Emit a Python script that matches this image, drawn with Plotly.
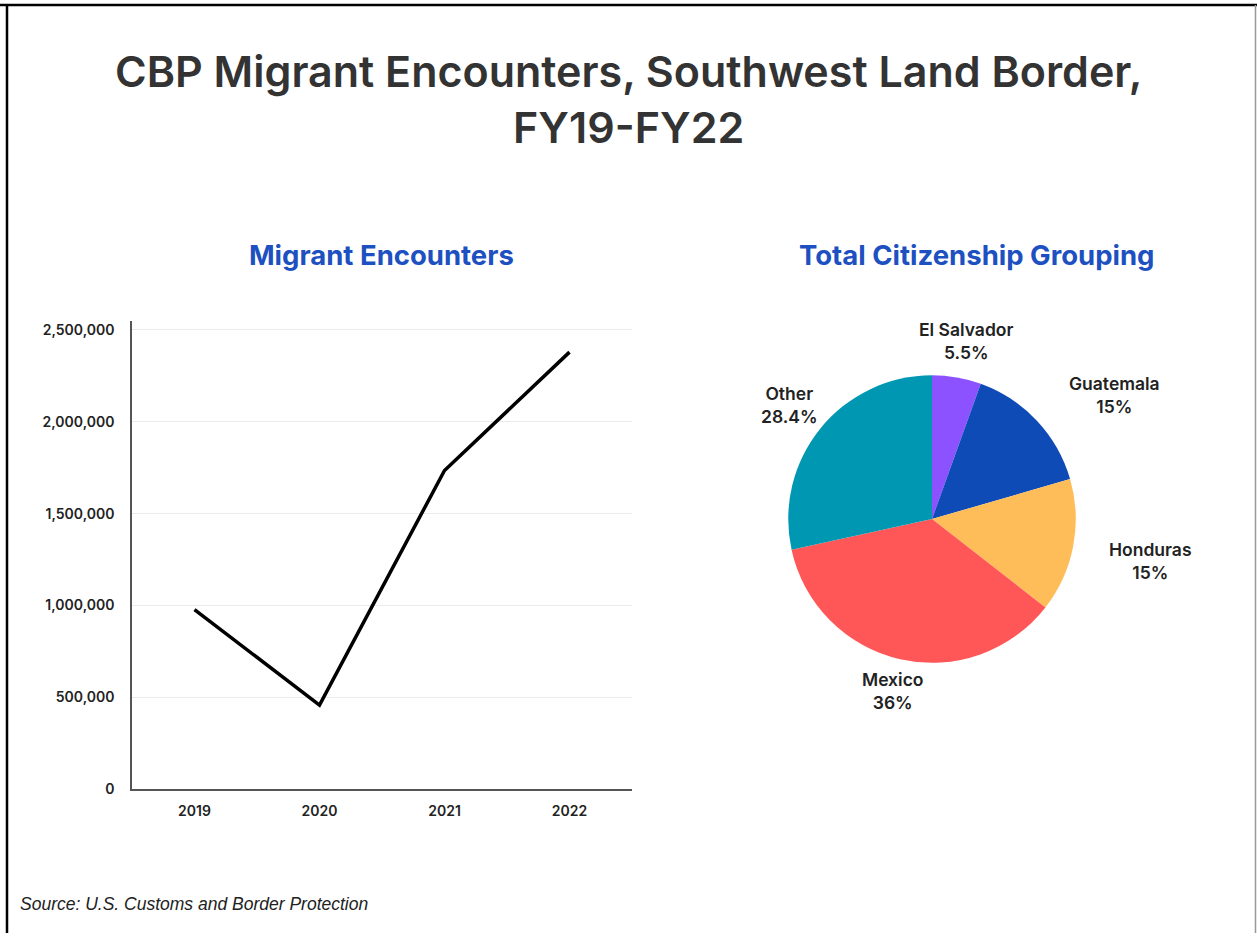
import math
import plotly.graph_objects as go

# ---- data ----
years = ["2019", "2020", "2021", "2022"]
encounters = [977509, 458088, 1734686, 2378944]
y_ticks = [0, 500000, 1000000, 1500000, 2000000, 2500000]

countries = ["El Salvador", "Guatemala", "Honduras", "Mexico", "Other"]
shares = [5.5, 15, 15, 36, 28.4]
share_labels = ["5.5%", "15%", "15%", "36%", "28.4%"]
pie_colors = ["#8c52ff", "#0f4bb7", "#ffbd59", "#ff5757", "#0097b2"]

title_text = "CBP Migrant Encounters, Southwest Land Border,<br>FY19-FY22"

W, H = 1257, 941
FONT = "Inter"

def px(x):
    return x / W

def py(y):
    return 1 - y / H

fig = go.Figure()

fig.add_trace(go.Scatter(
    x=years, y=encounters, mode="lines",
    line=dict(color="#000000", width=3.5),
    showlegend=False, hoverinfo="x+y",
))

# pie geometry (pixels)
PCX, PCY, PR = 932, 523.5, 145
fig.add_trace(go.Pie(
    labels=countries, values=shares,
    textinfo="none",
    marker=dict(colors=pie_colors, line=dict(width=0)),
    sort=False, direction="clockwise", rotation=0,
    domain=dict(x=[px(PCX - PR), px(PCX + PR)], y=[py(PCY + PR), py(PCY - PR)]),
    showlegend=False,
))

fig.update_xaxes(
    type="category", range=[-0.5, 3.5],
    domain=[px(132), px(632)],
    showline=True, linecolor="#555555", linewidth=2,
    showgrid=False, zeroline=False,
    tickfont=dict(family=FONT, size=14, color="#222222", weight=600),
    ticks="", ticklabelstandoff=8,
)
fig.update_yaxes(
    range=[0, 2547000],
    domain=[py(796), py(324)],
    tickvals=y_ticks, tickformat=",",
    showline=True, linecolor="#555555", linewidth=1.5,
    showgrid=True, gridcolor="#ebebeb", gridwidth=1,
    zeroline=False,
    tickfont=dict(family=FONT, size=14, color="#222222", weight=600),
    ticks="", ticklabelstandoff=13,
)

annotations = [
    dict(text=title_text, x=0.5, y=py(100),
         font=dict(family=FONT, size=43, color="#333333", weight=600)),
    dict(text="Migrant Encounters", x=px(381), y=py(257),
         font=dict(family=FONT, size=27.5, color="#1d50c0", weight=700)),
    dict(text="Total Citizenship Grouping", x=px(977), y=py(257),
         font=dict(family=FONT, size=27.5, color="#1d50c0", weight=700)),
    dict(text="<i>Source: U.S. Customs and Border Protection</i>", x=px(18), y=py(912),
         xanchor="left", font=dict(family="Liberation Sans, Arial", size=17.5, color="#222222")),
]

# pie labels placed outside each slice along its mid-angle
LFS = 17.5
total = sum(shares)
cum = 0.0
for name, val, lab in zip(countries, shares, share_labels):
    mid = (cum + val / 2) / total * 2 * math.pi
    cum += val
    s0 = math.sin(mid)
    ang = mid + math.radians(12) * max(0.0, math.sin(2 * mid)) * max(0.0, s0)
    s, c = math.sin(ang), math.cos(ang)
    bw = 0.6 * LFS * max(len(name), len(lab))
    bh = 2 * 1.35 * LFS
    proj = bw / 2 * abs(s) + bh / 2 * abs(c)
    pad = 3 + 30 * max(0.0, s) ** 2
    d = PR + pad + proj
    lx, ly = PCX + d * s, PCY - d * c
    annotations.append(dict(
        text=f"{name}<br>{lab}", x=px(lx), y=py(ly),
        font=dict(family=FONT, size=LFS, color="#222222", weight=600),
    ))

for a in annotations:
    a.update(xref="paper", yref="paper", showarrow=False)
    a.setdefault("xanchor", "center")
    a.setdefault("yanchor", "middle")

shapes = [
    dict(type="line", x0=0, x1=1, y0=py(5), y1=py(5), line=dict(color="#000000", width=2.5)),
    dict(type="line", x0=px(7), x1=px(7), y0=py(4), y1=0, line=dict(color="#000000", width=2.5)),
    dict(type="line", x0=px(1255.5), x1=px(1255.5), y0=py(5), y1=0, line=dict(color="#999999", width=1.5)),
]
for s in shapes:
    s.update(xref="paper", yref="paper", layer="above")

fig.update_layout(
    width=W, height=H, autosize=False,
    margin=dict(l=0, r=0, t=0, b=0),
    paper_bgcolor="#ffffff", plot_bgcolor="#ffffff",
    annotations=annotations,
    shapes=shapes,
    font=dict(family=FONT),
)

fig.write_html(
    "out.html",
    config={"displayModeBar": False},
    post_script="document.body.style.margin='0';document.body.style.overflow='hidden';",
)
